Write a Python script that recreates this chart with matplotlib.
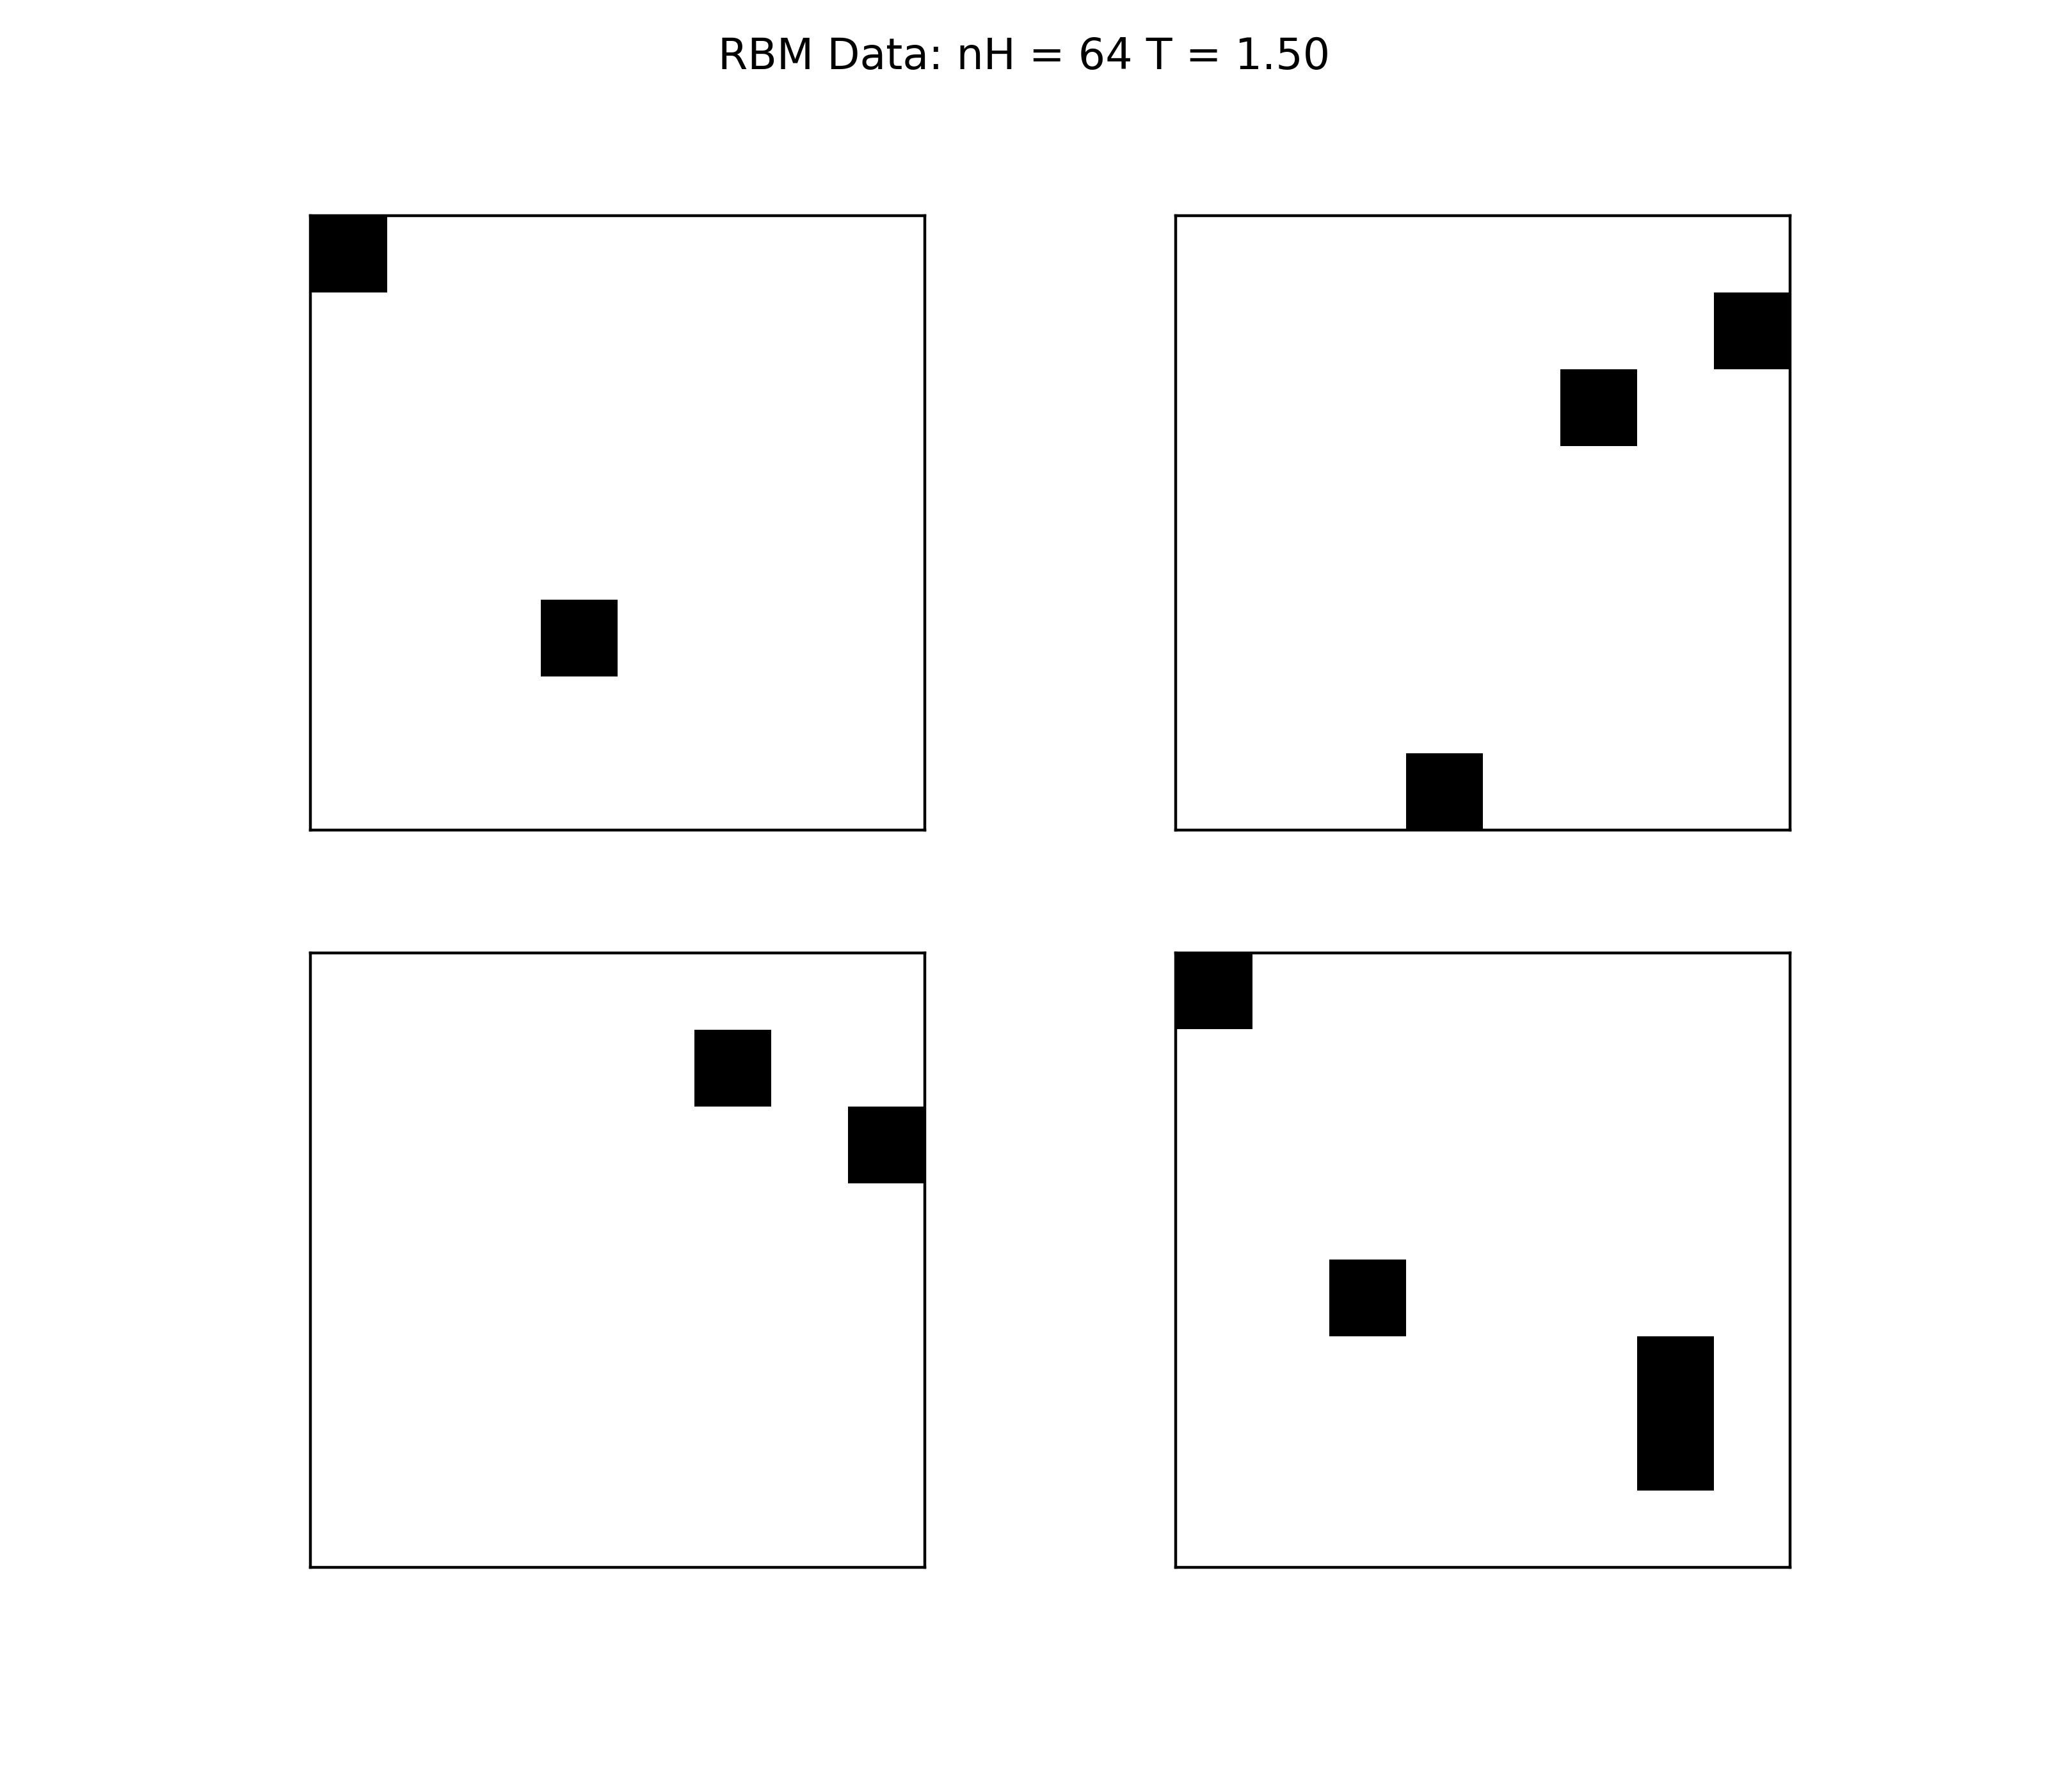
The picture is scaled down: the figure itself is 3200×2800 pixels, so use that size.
import matplotlib.pyplot as plt
import numpy as np

n_side = 8
n_hidden = 64
temperature = 1.50

# black (spin up) cells of each sample: (row, col)
sample_tl = [(0, 0), (5, 3)]
sample_tr = [(1, 7), (2, 5), (7, 3)]
sample_bl = [(1, 5), (2, 7)]
sample_br = [(0, 0), (4, 2), (5, 6), (6, 6)]
samples = [sample_tl, sample_tr, sample_bl, sample_br]

fig = plt.figure(figsize=(8, 7), dpi=400)

positions = [
    [0.1516, 0.5368, 0.3000, 0.3429],
    [0.5741, 0.5368, 0.3000, 0.3429],
    [0.1516, 0.1254, 0.3000, 0.3429],
    [0.5741, 0.1254, 0.3000, 0.3429],
]

for cells, pos in zip(samples, positions):
    grid = np.zeros((n_side, n_side))
    for r, c in cells:
        grid[r, c] = 1
    ax = fig.add_axes(pos)
    ax.imshow(grid, cmap='Greys', vmin=0, vmax=1, interpolation='nearest')
    ax.set_xticks([])
    ax.set_yticks([])

fig.suptitle('RBM Data: nH = %d T = %.2f' % (n_hidden, temperature))

plt.savefig('out.png', dpi=400)
